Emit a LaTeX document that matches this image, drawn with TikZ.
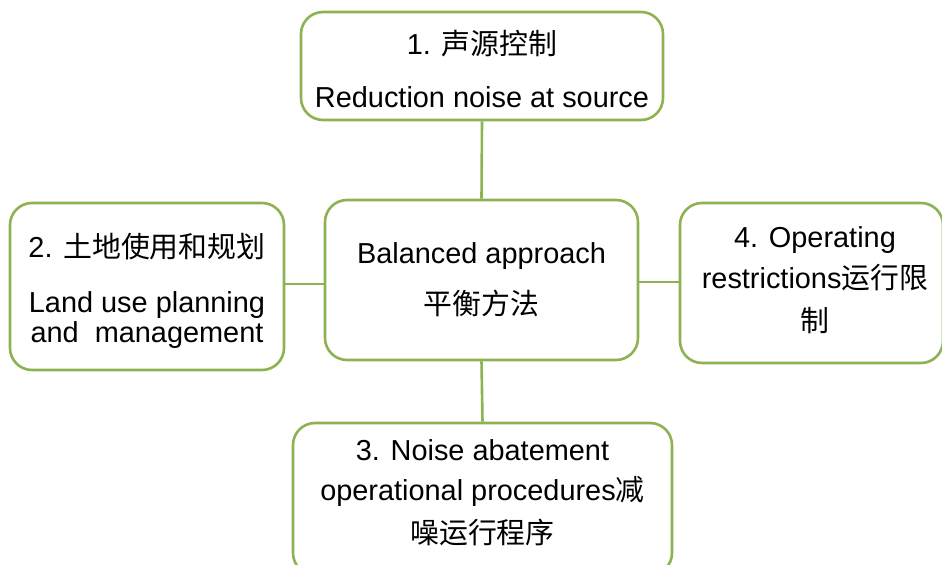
\documentclass[tikz,border=0pt]{standalone}
\usepackage{fontspec}
\setmainfont{Liberation Sans}
\newfontfamily\cjk{Noto Sans CJK SC}
\definecolor{boxgreen}{RGB}{141,178,82}
\begin{document}
\begin{tikzpicture}[x=1bp,y=-1bp,
  box/.style={draw=boxgreen, line width=2.6bp, rounded corners=22bp, fill=white, inner sep=0pt},
  txt/.style={align=center, inner sep=0pt, font=\fontsize{29}{30}\selectfont},
  link/.style={draw=boxgreen, line width=2.6bp}]
\useasboundingbox (0,0) rectangle (942,565);
\clip (0,0) rectangle (942,565);
\node[box, minimum width=362bp, minimum height=108bp] (top) at (482,66) {};
\node[txt, yshift=-3bp] (toptext) at (top.center)
  {1. {\cjk 声源控制}\\[24pt]Reduction noise at source};
\node[box, minimum width=313bp, minimum height=160bp] (mid) at (481.5,280) {};
\node[txt] (midtext) at (mid.center)
  {Balanced approach\\[20pt]{\cjk 平衡方法}};
\node[box, minimum width=274bp, minimum height=167bp] (left) at (147,286.5) {};
\node[txt, yshift=-4bp] (lefttext) at (left.center)
  {2. {\cjk 土地使用和规划}\\[25pt]Land use planning\\and\ \ management};
\node[box, minimum width=263bp, minimum height=160bp] (right) at (811.5,283) {};
\node[txt, xshift=3.5bp, yshift=3bp] (righttext) at (right.center)
  {4. Operating\\[10pt]restrictions{\cjk 运行限}\\[13pt]{\cjk 制}};
\node[box, minimum width=379bp, minimum height=152bp] (bottom) at (482.5,499) {};
\node[txt, yshift=6bp] (bottomtext) at (bottom.center)
  {3. Noise abatement\\[10pt]operational procedures{\cjk 减}\\[12pt]{\cjk 噪运行程序}};
\draw[link] (top.south) -- (mid.north);
\draw[link] (mid.south) -- (bottom.north);
\draw[link] (left.east |- 0,284) -- (mid.west |- 0,284);
\draw[link] (mid.east |- 0,282) -- (right.west |- 0,282);
\end{tikzpicture}
\end{document}
